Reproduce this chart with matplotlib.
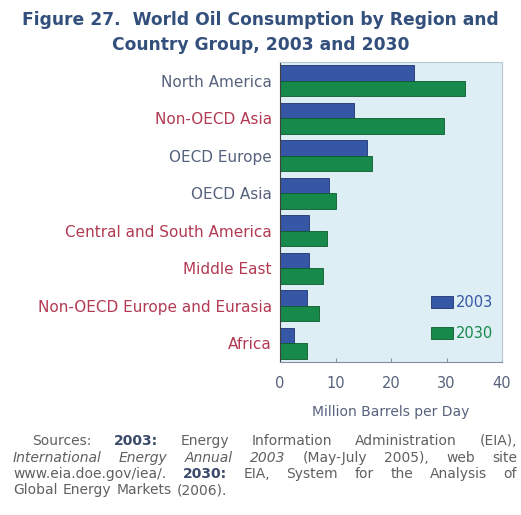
import matplotlib
matplotlib.use("Agg")
import matplotlib.pyplot as plt

plt.rcParams['font.family'] = ['DejaVu Sans']

regions = ["North America", "Non-OECD Asia", "OECD Europe", "OECD Asia",
           "Central and South America", "Middle East",
           "Non-OECD Europe and Eurasia", "Africa"]
oecd = [True, False, True, True, False, False, False, False]
use_2003 = [24.1, 13.3, 15.6, 8.8, 5.3, 5.3, 4.8, 2.6]
use_2030 = [33.3, 29.6, 16.5, 10.0, 8.4, 7.8, 7.0, 4.9]
x_ticks = [0, 10, 20, 30, 40]

BLUE = "#3557a6"
GREEN = "#17894a"
BG = "#ddeef5"
SLATE = "#56627c"
MAROON = "#b23a52"
TITLE_C = "#33507c"
GRAY = "#606060"
DARKBLUE = "#3b4a6b"

W, H = 521, 515
fig = plt.figure(figsize=(W / 100, H / 100), dpi=100)
fig.patch.set_facecolor("white")

# title
fig.text(0.5, 1 - 20 / H, "Figure 27.  World Oil Consumption by Region and",
         ha="center", va="center", fontsize=12.3, fontweight="bold", color=TITLE_C)
fig.text(0.5, 1 - 45 / H, "Country Group, 2003 and 2030",
         ha="center", va="center", fontsize=12.3, fontweight="bold", color=TITLE_C)

ax = fig.add_axes([280 / W, 1 - 362 / H, 222 / W, 300 / H])
ax.set_facecolor(BG)

n = len(regions)
h = 0.41
ys = list(range(n))
ax.barh([y - h / 2 for y in ys], use_2003, height=h, color=BLUE,
        edgecolor="#1f3470", linewidth=0.6, label="2003")
ax.barh([y + h / 2 for y in ys], use_2030, height=h, color=GREEN,
        edgecolor="#0d5a2c", linewidth=0.6, label="2030")
ax.set_ylim(n - 0.5, -0.5)
ax.set_xlim(0, 40)

ax.set_yticks(ys)
ax.set_yticklabels(regions, fontsize=11)
for lbl, o in zip(ax.get_yticklabels(), oecd):
    lbl.set_color(SLATE if o else MAROON)
ax.tick_params(axis="y", length=0, pad=6)

ax.set_xticks(x_ticks)
ax.set_xticklabels([str(t) for t in x_ticks], fontsize=10.5, color=SLATE)
ax.tick_params(axis="x", direction="in", length=3, color="#8090a0", pad=10)
ax.set_xlabel("Million Barrels per Day", fontsize=10, color=SLATE, labelpad=10)

for side in ["top", "right"]:
    ax.spines[side].set_color("#b8c8d0")
ax.spines["left"].set_color("#404040")
ax.spines["bottom"].set_color("#8090a0")

leg = ax.legend(loc="lower right", bbox_to_anchor=(1.0, 0.04), frameon=False,
                fontsize=10.5, handlelength=1.5, handleheight=0.9, labelspacing=1.1,
                borderaxespad=0.2, handletextpad=0.2)
leg.get_texts()[0].set_color(BLUE)
leg.get_texts()[1].set_color(GREEN)

# justified source note
src_lines = [
    [("Sources:", "normal"), ("2003:", "bold"), ("Energy", "normal"), ("Information", "normal"),
     ("Administration", "normal"), ("(EIA),", "normal")],
    [("International", "italic"), ("Energy", "italic"), ("Annual", "italic"), ("2003", "italic"),
     ("(May-July", "normal"), ("2005),", "normal"), ("web", "normal"), ("site", "normal")],
    [("www.eia.doe.gov/iea/.", "normal"), ("2030:", "bold"), ("EIA,", "normal"), ("System", "normal"),
     ("for", "normal"), ("the", "normal"), ("Analysis", "normal"), ("of", "normal")],
    [("Global", "normal"), ("Energy", "normal"), ("Markets", "normal"), ("(2006).", "normal")],
]
line_y = [441, 458, 474, 490]
x_left = [32, 13, 13, 13]
x_right = 517
fs = 10

fig.canvas.draw()
renderer = fig.canvas.get_renderer()
for k, words in enumerate(src_lines):
    texts = []
    for w, style in words:
        kw = dict(fontsize=fs, color=GRAY, va="center", ha="left")
        if style == "bold":
            kw["fontweight"] = "bold"
            kw["color"] = DARKBLUE
        if style == "italic":
            kw["fontstyle"] = "italic"
        t = fig.text(0, 1 - line_y[k] / H, w, **kw)
        texts.append(t)
    widths = [t.get_window_extent(renderer).width for t in texts]
    last = k == len(src_lines) - 1
    if last:
        gap = 5
    else:
        gap = (x_right - x_left[k] - sum(widths)) / (len(texts) - 1)
    x = x_left[k]
    for t, wd in zip(texts, widths):
        t.set_x(x / W)
        x += wd + gap

fig.savefig("out.png", dpi=100)
